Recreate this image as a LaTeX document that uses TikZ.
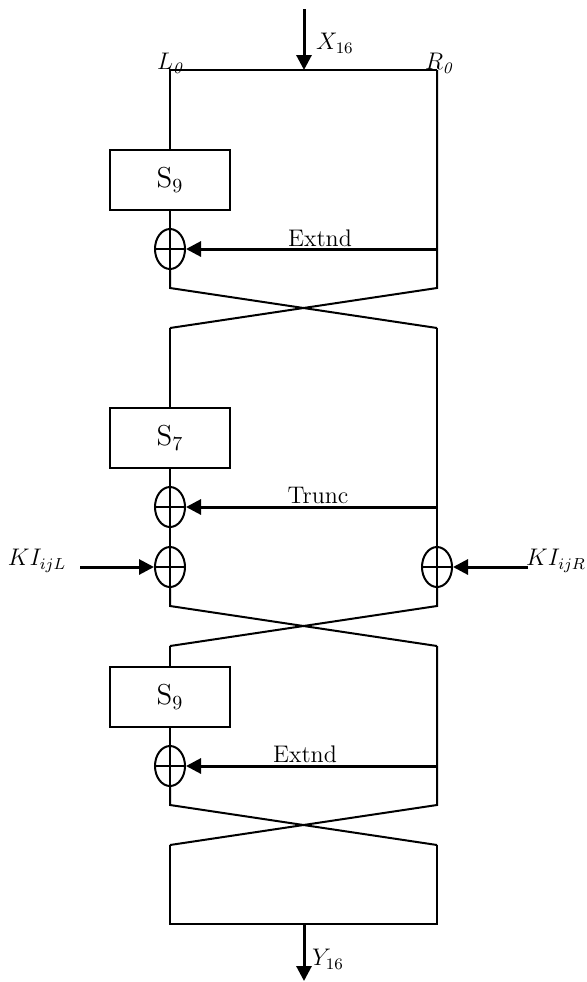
\documentclass[tikz,border=0pt]{standalone}
\usetikzlibrary{shapes.geometric,arrows.meta}
\begin{document}
\begin{tikzpicture}[x=0.5pt,y=-0.5pt,
 line/.style={line width=1pt},
 arr/.style={line width=1.5pt,-{Triangle[length=7.5pt,width=7.5pt]}},
 xorn/.style={ellipse,draw,line width=1pt,minimum width=15pt,minimum height=20pt,inner sep=0pt,
   path picture={\draw[line width=1pt] (path picture bounding box.west) -- (path picture bounding box.east)
   (path picture bounding box.north) -- (path picture bounding box.south);}},
 sbox/.style={rectangle,draw,line width=1pt,minimum width=60pt,minimum height=30pt,inner sep=0pt,font=\fontsize{14}{16}\selectfont},
 lab/.style={font=\fontsize{12}{14}\selectfont,inner sep=0pt}]
\useasboundingbox (0,0) rectangle (587,982);
% coordinates
\coordinate (tL) at (170,70);
\coordinate (tR) at (437,70);
\coordinate (tM) at (304,70);
\coordinate (xin) at (304,9);
\coordinate (b1) at (437,249);
\coordinate (c1L) at (170,288);
\coordinate (c1R) at (437,288);
\coordinate (d1L) at (170,328);
\coordinate (d1R) at (437,328);
\coordinate (b2) at (437,507);
\coordinate (c2L) at (170,606);
\coordinate (c2R) at (437,606);
\coordinate (d2L) at (170,646);
\coordinate (d2R) at (437,646);
\coordinate (b3) at (437,766);
\coordinate (c3L) at (170,805);
\coordinate (c3R) at (437,805);
\coordinate (d3L) at (170,845);
\coordinate (d3R) at (437,845);
\coordinate (bL) at (170,924);
\coordinate (bR) at (437,924);
\coordinate (bM) at (304,924);
\coordinate (yout) at (304,981);
\coordinate (kiLs) at (80,567);
\coordinate (kiRs) at (528,567);
% nodes
\node[sbox] (s9a) at (170,180) {$\mathrm{S}_9$};
\node[xorn] (x1) at (170,249) {};
\node[sbox] (s7) at (170,438) {$\mathrm{S}_7$};
\node[xorn] (x2) at (170,507) {};
\node[xorn] (x3) at (170,567) {};
\node[xorn] (x3R) at (437,567) {};
\node[sbox] (s9b) at (170,697) {$\mathrm{S}_9$};
\node[xorn] (x4) at (170,766) {};
% labels
\node[lab] (lx) at (335,43) {$X_{16}$};
\node[lab] (ll0) at (171,63) {$L_{\mathit{0}}$};
\node[lab] (lr0) at (440,63) {$R_{\mathit{0}}$};
\node[lab] (le1) at (320,238) {Extnd};
\node[lab] (lt) at (318,495) {Trunc};
\node[lab] (le2) at (305,754) {Extnd};
\node[lab] (lkl) at (37,561) {$KI_{ijL}$};
\node[lab] (lkr) at (556,561) {$KI_{ijR}$};
\node[lab] (ly) at (328,959) {$Y_{16}$};
% round 1
\draw[line] (tR) -- (tL) -- (s9a.north);
\draw[line] (s9a.south) -- (x1.north);
\draw[line] (x1.south) -- (c1L) -- (d1R);
\draw[line] (tR) -- (c1R) -- (d1L);
\draw[arr] (xin) -- (tM);
\draw[arr] (b1) -- (x1.east);
% round 2
\draw[line] (d1L) -- (s7.north);
\draw[line] (s7.south) -- (x2.north);
\draw[line] (x2.south) -- (x3.north);
\draw[line] (x3.south) -- (c2L) -- (d2R);
\draw[line] (d1R) -- (x3R.north);
\draw[line] (x3R.south) -- (c2R) -- (d2L);
\draw[arr] (b2) -- (x2.east);
\draw[arr] (kiLs) -- (x3.west);
\draw[arr] (kiRs) -- (x3R.east);
% round 3
\draw[line] (d2L) -- (s9b.north);
\draw[line] (s9b.south) -- (x4.north);
\draw[line] (x4.south) -- (c3L) -- (d3R);
\draw[line] (d2R) -- (c3R) -- (d3L);
\draw[arr] (b3) -- (x4.east);
% output
\draw[line] (d3L) -- (bL) -- (bR) -- (d3R);
\draw[arr] (bM) -- (yout);
\end{tikzpicture}
\end{document}
